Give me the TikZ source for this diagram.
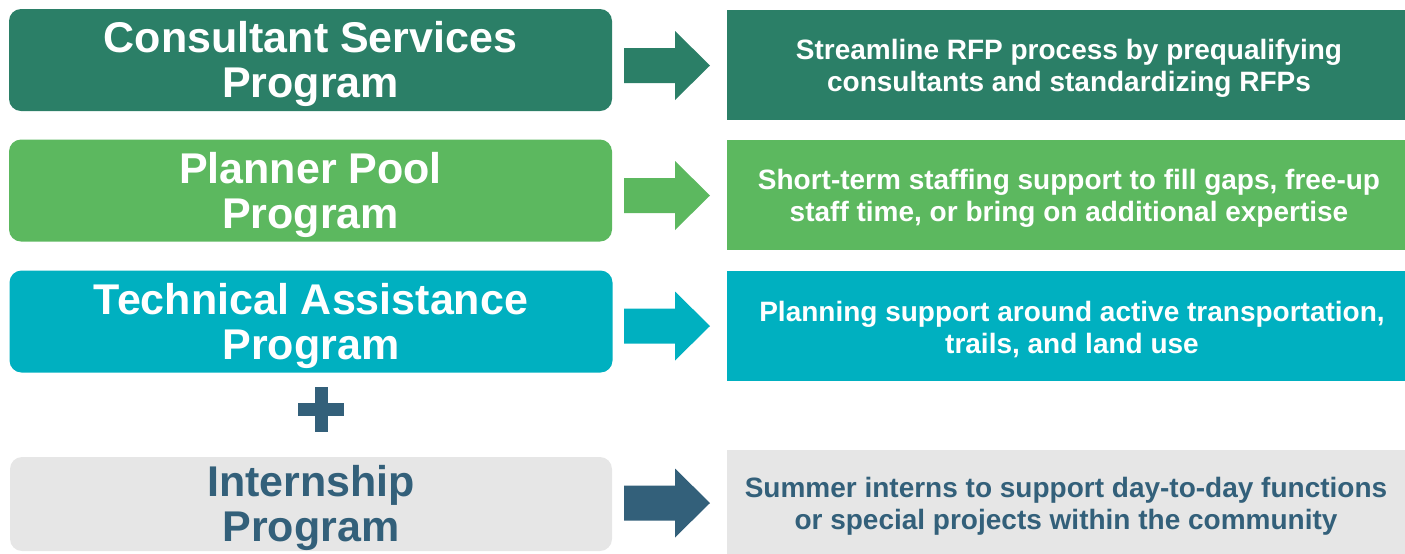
\documentclass[tikz,border=0pt]{standalone}
\usepackage{fontspec}
\setmainfont{Liberation Sans}
\usetikzlibrary{calc}
\definecolor{cdgreen}{HTML}{2B7F67}
\definecolor{clgreen}{HTML}{5CB85F}
\definecolor{cteal}{HTML}{00B0C0}
\definecolor{clgray}{HTML}{E6E6E6}
\definecolor{cdblue}{HTML}{33607A}
\begin{document}
\begin{tikzpicture}[x=0.5pt,y=-0.5pt,
  lbox/.style={rounded corners=6pt, inner sep=0pt, minimum width=301.5pt, minimum height=51pt},
  ltext/.style={inner sep=0pt, text=white, align=center, font=\fontsize{21.5pt}{22.5pt}\selectfont\bfseries},
  rbox/.style={inner sep=0pt, minimum width=339pt, minimum height=55pt},
  rtext/.style={inner sep=0pt, text=white, align=center, font=\fontsize{14pt}{16pt}\selectfont\bfseries}]
\useasboundingbox (0,0) rectangle (1405,553);
% left boxes
\node[lbox, fill=cdgreen] (L1) at (310.5,60) {};
\node[lbox, fill=clgreen] (L2) at (310.5,190.5) {};
\node[lbox, fill=cteal] (L3) at (311,321.5) {};
\node[lbox, fill=clgray, minimum width=301pt, minimum height=47pt] (L4) at (311,504) {};
\node[ltext] (L1t) at ($(L1.center)+(0,4)$) {Consultant Services\\Program};
\node[ltext] (L2t) at ($(L2.center)+(0,4)$) {Planner Pool\\Program};
\node[ltext] (L3t) at ($(L3.center)+(0,4)$) {Technical Assistance\\Program};
\node[ltext, text=cdblue] (L4t) at ($(L4.center)+(0,4)$) {Internship\\Program};
% right boxes
\node[rbox, fill=cdgreen] (R1) at (1066,65) {};
\node[rbox, fill=clgreen] (R2) at (1066,195) {};
\node[rbox, fill=cteal] (R3) at (1066,326) {};
\node[rbox, fill=clgray, minimum height=54pt] (R4) at (1066,504) {};
\node[rtext] (R1t) at ($(R1.center)+(3,3.5)$) {Streamline RFP process by prequalifying\\consultants and standardizing RFPs};
\node[rtext] (R2t) at ($(R2.center)+(3,3.5)$) {Short-term staffing support to fill gaps, free-up\\staff time, or bring on additional expertise};
\node[rtext] (R3t) at ($(R3.center)+(6,3.5)$) {Planning support around active transportation,\\trails, and land use};
\node[rtext, text=cdblue] (R4t) at ($(R4.center)+(0,2)$) {Summer interns to support day-to-day functions\\or special projects within the community};
% plus
\coordinate (P) at (321,409.5);
\fill[cdblue] ($(P)+(-23,-6.5)$) rectangle ($(P)+(23,6.5)$);
\fill[cdblue] ($(P)+(-6.5,-22.5)$) rectangle ($(P)+(6.5,22.5)$);
% block arrows
\foreach \i/\yc/\col in {1/65.5/cdgreen, 2/195.5/clgreen, 3/326/cteal, 4/503/cdblue}{
  \coordinate (A\i) at (624,\yc);
  \fill[\col] (A\i) ++(0,-17.5) -- ++(51,0) -- ++(0,-17) -- ++(35,34.5) -- ++(-35,34.5) -- ++(0,-17) -- ++(-51,0) -- cycle;
}
\end{tikzpicture}
\end{document}
